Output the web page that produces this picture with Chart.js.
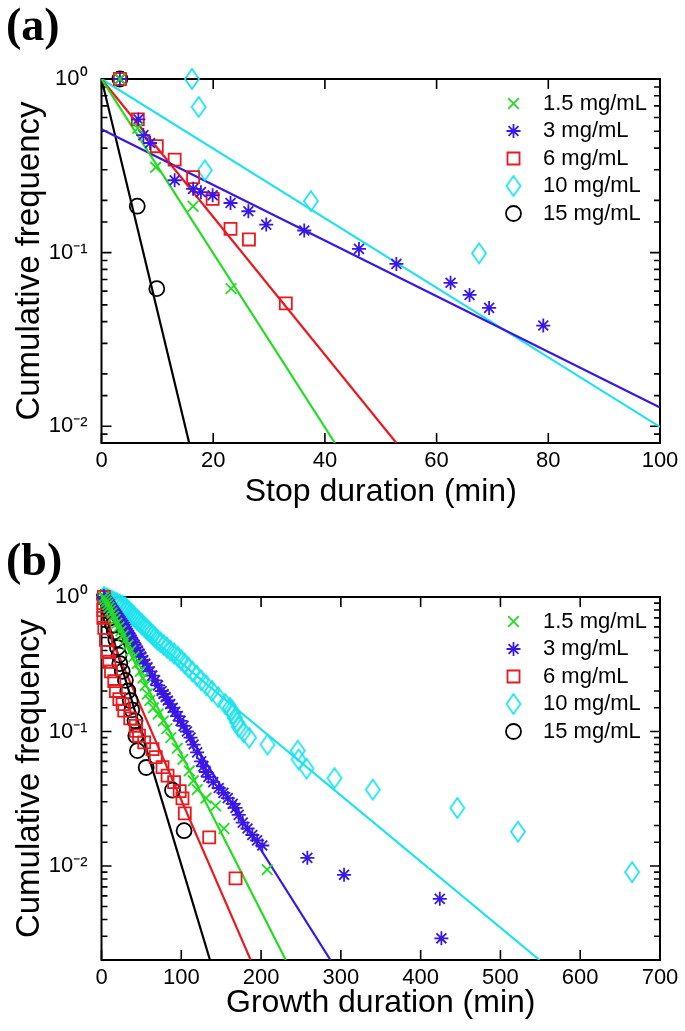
<!DOCTYPE html>
<html>
<head>
<meta charset="utf-8">
<script src="https://cdn.jsdelivr.net/npm/chart.js@4.4.1/dist/chart.umd.min.js"></script>
<style>
  html, body { margin: 0; padding: 0; background: #fff; }
  #page { position: relative; width: 685px; height: 1031px; overflow: hidden; }
  #page canvas { position: absolute; left: 0; }
  .tag { position: absolute; left: 6px; font: bold 46px "Liberation Serif", "Times New Roman", serif; color: #000; }
</style>
</head>
<body>
<div id="page">
  <canvas id="stopChart" width="685" height="518" style="top:0"></canvas>
  <canvas id="growthChart" width="685" height="513" style="top:518px"></canvas>
  <div class="tag" style="top:-2px">(a)</div>
  <div class="tag" style="top:533px">(b)</div>
</div>
<script>
const concLabels = ['1.5 mg/mL', '3 mg/mL', '6 mg/mL', '10 mg/mL', '15 mg/mL'];
const concColors = ['#22dd22', '#3a17e6', '#e8191f', '#1de2ec', '#000000'];

// (a) stop duration (min) vs cumulative frequency
const stopX_1p5 = [3.3, 6.5, 9.7, 16.4, 23.2];
const stopY_1p5 = [1, 0.52, 0.31, 0.185, 0.062];
const stopX_3 = [3.3, 6.6, 7.5, 8.7, 13.1, 16.4, 17.8, 19.9, 23.1, 26.3, 29.5, 36.3, 46.1, 52.8, 62.5, 65.9, 69.4, 79.1];
const stopY_3 = [1, 0.585, 0.475, 0.428, 0.261, 0.233, 0.223, 0.214, 0.193, 0.173, 0.145, 0.134, 0.105, 0.086, 0.067, 0.057, 0.048, 0.038];
const stopX_6 = [3.3, 6.5, 9.9, 13.1, 16.4, 19.9, 23.1, 26.4, 33.0];
const stopY_6 = [1, 0.585, 0.41, 0.343, 0.272, 0.204, 0.137, 0.119, 0.051];
const stopX_10 = [16.2, 17.4, 18.5, 37.5, 67.6];
const stopY_10 = [1, 0.69, 0.298, 0.198, 0.099];
const stopX_15 = [3.3, 6.4, 9.9];
const stopY_15 = [1, 0.185, 0.062];

// exponential fits, as end points
const stopFit_1p5 = [[0, 1], [41.8, 0.008]];
const stopFit_3 = [[0, 0.514], [100, 0.0128]];
const stopFit_6 = [[0, 1], [52.8, 0.008]];
const stopFit_10 = [[0, 1], [100, 0.0099]];
const stopFit_15 = [[0, 1], [15.7, 0.008]];

// (b) growth duration (min) vs cumulative frequency
const growthX_1p5 = [3, 4.5, 6.1, 7.7, 9.4, 11.2, 13.1, 15.1, 17.2, 19.5, 21.9, 24.4, 27.1, 30.1, 33.3, 36.8, 40.7, 44.9, 48.7, 52, 54.7, 57.5, 60.5, 65, 71, 77.5, 82, 87, 95, 102, 110, 115, 120, 131, 143, 153.5, 207.7];
const growthY_1p5 = [1, 0.96, 0.92, 0.88, 0.84, 0.80, 0.76, 0.72, 0.68, 0.64, 0.60, 0.56, 0.52, 0.48, 0.44, 0.40, 0.36, 0.32, 0.28, 0.25, 0.22, 0.19, 0.17, 0.15, 0.135, 0.12, 0.105, 0.09, 0.075, 0.062, 0.051, 0.043, 0.037, 0.032, 0.028, 0.019, 0.0094];
const growthX_3 = [3, 4, 5.1, 6.1, 7.2, 8.3, 9.4, 10.6, 11.8, 13, 14.2, 15.5, 16.8, 18.2, 19.6, 21, 22.5, 24, 25.5, 27.1, 28.8, 30.2, 31.6, 33.1, 34.7, 36.3, 38, 39.7, 41.6, 43.5, 45.5, 47.6, 49.8, 52.2, 54.8, 57.6, 60.5, 63.6, 67.1, 70.8, 75.4, 77.8, 80.4, 83.1, 86.1, 89.2, 92.4, 95.6, 99.1, 102.9, 107, 111.6, 115.5, 119.9, 124.9, 127.7, 130.8, 134, 140, 146.9, 152.8, 158.3, 164.5, 168, 172, 177, 183, 189, 195, 201.5, 258, 304, 424, 426];
const growthY_3 = [1, 0.98, 0.96, 0.94, 0.92, 0.90, 0.88, 0.86, 0.84, 0.82, 0.80, 0.78, 0.76, 0.74, 0.72, 0.70, 0.68, 0.66, 0.64, 0.62, 0.60, 0.58, 0.56, 0.54, 0.52, 0.50, 0.48, 0.46, 0.44, 0.42, 0.40, 0.38, 0.36, 0.34, 0.32, 0.30, 0.28, 0.26, 0.24, 0.22, 0.20, 0.19, 0.18, 0.17, 0.16, 0.15, 0.14, 0.13, 0.12, 0.11, 0.10, 0.09, 0.08, 0.07, 0.06, 0.055, 0.050, 0.046, 0.042, 0.038, 0.035, 0.032, 0.029, 0.027, 0.024, 0.021, 0.019, 0.017, 0.0155, 0.0142, 0.0115, 0.0086, 0.0057, 0.0029];
const growthX_6 = [3, 2.5, 2.3, 2.3, 3.5, 5.6, 7.7, 9.8, 11.9, 16, 18, 22.3, 26.5, 28.5, 36, 43, 43, 47, 53.5, 64, 68, 76.5, 82.8, 91, 98, 101.5, 104.4, 135, 168];
const growthY_6 = [1, 0.9, 0.8, 0.70, 0.59, 0.48, 0.39, 0.33, 0.28, 0.237, 0.2, 0.174, 0.16, 0.143, 0.125, 0.11, 0.101, 0.093, 0.083, 0.074, 0.0645, 0.0544, 0.047, 0.042, 0.036, 0.0318, 0.0246, 0.0163, 0.0081];
const growthX_10 = [3, 6.6, 9.6, 12.8, 16, 19.4, 22.8, 26.2, 29.1, 30.9, 32.7, 34.5, 36.4, 38.4, 40.4, 42.4, 44.5, 46.7, 49, 51.4, 53.8, 56.3, 58.9, 61.6, 64.4, 67.3, 70.2, 74.1, 78, 82.1, 86.4, 91, 95.6, 99.8, 104.2, 108.9, 113.9, 119.3, 125.1, 131.5, 138.5, 146.2, 155.2, 160.8, 163, 165, 167, 170, 172, 178, 185, 208, 246, 247, 257, 292, 340, 446, 522, 665];
const growthY_10 = [1, 0.98, 0.96, 0.94, 0.92, 0.90, 0.88, 0.86, 0.84, 0.82, 0.80, 0.78, 0.76, 0.74, 0.72, 0.70, 0.68, 0.66, 0.64, 0.62, 0.60, 0.58, 0.56, 0.54, 0.52, 0.50, 0.48, 0.46, 0.44, 0.42, 0.40, 0.38, 0.36, 0.34, 0.32, 0.30, 0.28, 0.26, 0.24, 0.22, 0.20, 0.18, 0.16, 0.15, 0.144, 0.135, 0.126, 0.117, 0.108, 0.099, 0.090, 0.080, 0.072, 0.062, 0.053, 0.045, 0.037, 0.027, 0.018, 0.009];
const growthX_15 = [3.5, 8, 10, 12, 14, 16, 18, 20, 22, 23, 26, 30, 33, 36, 38, 42, 43, 45, 56, 89, 103.5];
const growthY_15 = [1, 0.9, 0.8, 0.7, 0.62, 0.55, 0.48, 0.42, 0.37, 0.32, 0.28, 0.24, 0.2, 0.17, 0.145, 0.12, 0.093, 0.072, 0.054, 0.0366, 0.0183];

const growthFit_1p5 = [[0, 1], [231, 0.002]];
const growthFit_3 = [[0, 1], [287, 0.002]];
const growthFit_6 = [[0, 0.72], [187, 0.002]];
const growthFit_10 = [[0, 1], [549, 0.002]];
const growthFit_15 = [[0, 0.95], [136, 0.002]];

const FONT = '"Liberation Sans", Arial, Helvetica, sans-serif';
const SUP = { '0': '\u2070', '1': '\u00b9', '2': '\u00b2', '3': '\u00b3', '-': '\u207b' };

function decadeLabel(v) {
    const lg = Math.log10(v);
    const k = Math.round(lg);
    if (Math.abs(lg - k) > 1e-6) {
        return '';
    }
    return '10' + String(k).split('').map(function (c) { return SUP[c]; }).join('');
}

function makeDiamond(w, h, color, lw) {
    const c = document.createElement('canvas');
    c.width = Math.ceil(w + lw * 2);
    c.height = Math.ceil(h + lw * 2);
    const g = c.getContext('2d');
    const cx = c.width / 2, cy = c.height / 2;
    g.strokeStyle = color;
    g.lineWidth = lw;
    g.beginPath();
    g.moveTo(cx, cy - h / 2);
    g.lineTo(cx + w / 2, cy);
    g.lineTo(cx, cy + h / 2);
    g.lineTo(cx - w / 2, cy);
    g.closePath();
    g.stroke();
    return c;
}

const diamond = makeDiamond(14, 20, concColors[3], 1.8);
const markerStyles = ['crossRot', 'star', 'rect', diamond, 'circle'];
const markerRadii = [7.5, 7, 8.5, 9, 7.5];

function markerSet(i, xs, ys) {
    return {
        label: concLabels[i],
        data: xs.map(function (x, j) { return { x: x, y: ys[j] }; }),
        showLine: false,
        borderColor: concColors[i],
        backgroundColor: 'rgba(0,0,0,0)',
        pointStyle: markerStyles[i],
        pointRadius: markerRadii[i],
        pointHoverRadius: markerRadii[i],
        pointBorderWidth: 1.8,
        clip: false,
        inLegend: true
    };
}

function fitLine(i, pts) {
    return {
        label: concLabels[i] + ' fit',
        data: pts.map(function (p) { return { x: p[0], y: p[1] }; }),
        showLine: true,
        borderColor: concColors[i],
        borderWidth: 2.2,
        pointRadius: 0,
        fill: false,
        inLegend: false
    };
}

// frame with inward ticks on all four sides
const boxTicks = {
    id: 'boxTicks',
    beforeDatasetsDraw(chart) {
        const { ctx, chartArea: a, scales: { x, y } } = chart;
        ctx.save();
        ctx.strokeStyle = '#000';
        ctx.lineWidth = 1.6;
        ctx.beginPath();
        x.ticks.forEach(function (t) {
            const px = x.getPixelForValue(t.value);
            ctx.moveTo(px, a.bottom); ctx.lineTo(px, a.bottom - 10);
            ctx.moveTo(px, a.top); ctx.lineTo(px, a.top + 10);
        });
        y.ticks.forEach(function (t) {
            const py = y.getPixelForValue(t.value);
            const len = decadeLabel(t.value) ? 10 : 6;
            ctx.moveTo(a.left, py); ctx.lineTo(a.left + len, py);
            ctx.moveTo(a.right, py); ctx.lineTo(a.right - len, py);
        });
        ctx.stroke();
        ctx.lineWidth = 2;
        ctx.strokeRect(a.left, a.top, a.right - a.left, a.bottom - a.top);
        ctx.restore();
    }
};

// legend drawn inside the plot, top right
const insideLegend = {
    id: 'insideLegend',
    afterDatasetsDraw(chart) {
        const { ctx, chartArea: a } = chart;
        const items = chart.data.datasets.filter(function (d) { return d.inLegend; });
        ctx.save();
        items.forEach(function (d, i) {
            const yy = a.top + 24.5 + 27.5 * i;
            ctx.strokeStyle = d.borderColor;
            ctx.fillStyle = 'rgba(0,0,0,0)';
            ctx.lineWidth = 1.8;
            Chart.helpers.drawPoint(ctx, {
                pointStyle: d.pointStyle,
                radius: d.pointRadius,
                rotation: 0,
                borderWidth: 1.8
            }, a.right - 146.5, yy);
            ctx.fillStyle = '#000';
            ctx.font = '22px ' + FONT;
            ctx.textAlign = 'left';
            ctx.textBaseline = 'middle';
            ctx.fillText(d.label, a.right - 117, yy);
        });
        ctx.restore();
    }
};

function makePanel(canvasId, datasets, xMax, xStep, yMin, xTitle, xHeight, titlePad) {
    const canvas = document.getElementById(canvasId);
    return new Chart(canvas.getContext('2d'), {
        type: 'scatter',
        data: { datasets: datasets },
        plugins: [boxTicks, insideLegend],
        options: {
            responsive: false,
            animation: false,
            devicePixelRatio: 1,
            events: [],
            layout: { padding: { top: 79, right: 25, left: 0, bottom: 0 } },
            plugins: {
                legend: { display: false },
                tooltip: { enabled: false }
            },
            scales: {
                x: {
                    type: 'linear',
                    min: 0,
                    max: xMax,
                    grid: { display: false, drawTicks: false },
                    border: { display: false },
                    ticks: {
                        stepSize: xStep,
                        color: '#000',
                        padding: 5,
                        maxRotation: 0,
                        autoSkip: false,
                        font: { family: FONT, size: 22 }
                    },
                    title: {
                        display: true,
                        text: xTitle,
                        color: '#000',
                        font: { family: FONT, size: 32 },
                        padding: { top: 0, bottom: titlePad }
                    },
                    afterFit: function (s) { s.height = xHeight; }
                },
                y: {
                    type: 'logarithmic',
                    min: yMin,
                    max: 1,
                    grid: { display: false, drawTicks: false },
                    border: { display: false },
                    ticks: {
                        color: '#000',
                        padding: 14,
                        autoSkip: false,
                        font: { family: FONT, size: 22 },
                        callback: function (v) { return decadeLabel(v); }
                    },
                    title: {
                        display: true,
                        text: 'Cumulative frequency',
                        color: '#000',
                        font: { family: FONT, size: 33 },
                        padding: { top: 10, bottom: 0 }
                    },
                    afterFit: function (s) { s.width = 101.5; }
                }
            }
        }
    });
}

makePanel('stopChart', [
    markerSet(0, stopX_1p5, stopY_1p5),
    markerSet(1, stopX_3, stopY_3),
    markerSet(2, stopX_6, stopY_6),
    markerSet(3, stopX_10, stopY_10),
    markerSet(4, stopX_15, stopY_15),
    fitLine(0, stopFit_1p5),
    fitLine(1, stopFit_3),
    fitLine(2, stopFit_6),
    fitLine(3, stopFit_10),
    fitLine(4, stopFit_15)
], 100, 20, 0.008, 'Stop duration (min)', 75, 7);

makePanel('growthChart', [
    markerSet(0, growthX_1p5, growthY_1p5),
    markerSet(1, growthX_3, growthY_3),
    markerSet(2, growthX_6, growthY_6),
    markerSet(3, growthX_10, growthY_10),
    markerSet(4, growthX_15, growthY_15),
    fitLine(0, growthFit_1p5),
    fitLine(1, growthFit_3),
    fitLine(2, growthFit_6),
    fitLine(3, growthFit_10),
    fitLine(4, growthFit_15)
], 700, 100, 0.002, 'Growth duration (min)', 71, 9);
</script>
</body>
</html>
